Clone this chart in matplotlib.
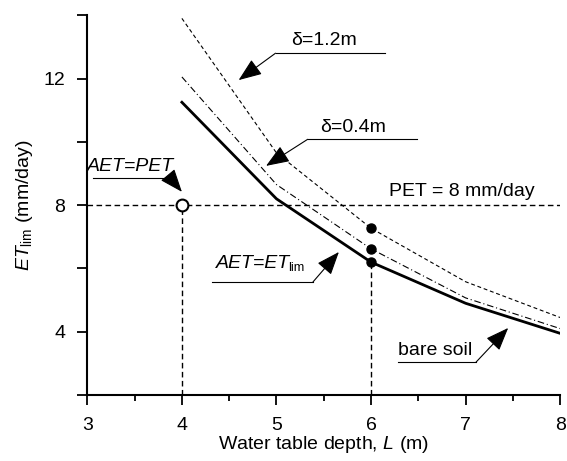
import matplotlib
matplotlib.use("Agg")
import matplotlib.pyplot as plt
from matplotlib.ticker import MultipleLocator

plt.rcParams['font.family'] = ['Liberation Sans', 'DejaVu Sans']
plt.rcParams['mathtext.fontset'] = 'custom'
plt.rcParams['mathtext.rm'] = 'Liberation Sans'
plt.rcParams['mathtext.it'] = 'Liberation Sans:italic'

# water table depth (m) and limiting evaporation (mm/day)
depth = [4, 5, 6, 7, 8]
et_bare = [11.25, 8.2, 6.2, 4.9, 3.95]
et_d04 = [12.05, 8.65, 6.62, 5.07, 4.1]
et_d12 = [13.9, 9.65, 7.27, 5.58, 4.45]

pet = 8
pet_point = (4, 8)
obs_depth = [6, 6, 6]
obs_et = [6.2, 6.62, 7.27]

fs = 14

fig = plt.figure(figsize=(5.67, 4.61), dpi=100)
ax = fig.add_axes([0.154, 0.143, 0.834, 0.824])

ax.plot(depth, et_d12, color='black', lw=0.8, dashes=(3.5, 2.5))
ax.plot(depth, et_d04, color='black', lw=0.8, dashes=(6, 2.5, 1, 2.5))
ax.plot(depth, et_bare, color='black', lw=2.0)

# PET line and guides
ax.plot([3, 8], [pet, pet], color='black', lw=1.0, dashes=(4, 2.5))
ax.plot([pet_point[0], pet_point[0]], [2, pet_point[1]], color='black', lw=1.0, dashes=(4, 2.5))
ax.plot([6, 6], [2, min(obs_et)], color='black', lw=1.0, dashes=(4, 2.5))
ax.plot(obs_depth, obs_et, 'o', color='black', ms=6.5, ls='none')
ax.plot([pet_point[0]], [pet_point[1]], 'o', mfc='white', mec='black', mew=1.5, ms=8.5)

arr = dict(arrowstyle='-|>,head_length=0.9,head_width=0.35', color='black',
           lw=0.8, mutation_scale=16, shrinkA=0, shrinkB=0)

def label(text, tx, ty, ux0, ux1, uy, tip, start=None, italic=False, sub=None):
    t = ax.text(tx, ty, text, fontsize=fs, ha='left', va='center',
                style='italic' if italic else 'normal')
    if sub:
        ax.annotate(sub, xy=(1, 0.0), xycoords=t, xytext=(-1.5, -2),
                    textcoords='offset points', fontsize=fs * 0.65,
                    ha='left', va='bottom')
    ax.plot([ux0, ux1], [uy, uy], color='black', lw=0.8, clip_on=False)
    if start is None:
        start = (ux0, uy)
    ax.annotate('', xy=tip, xytext=start, arrowprops=arr)

label('δ=1.2m', 5.16, 13.2, 4.99, 6.15, 12.8, (4.6, 11.95))
label('δ=0.4m', 5.46, 10.46, 5.33, 6.49, 10.08, (4.89, 9.24))
label('AET=PET', 3.0, 9.23, 3.06, 3.9, 8.85, (4.0, 8.42), start=(3.88, 8.85), italic=True)
label('AET=ET', 4.36, 6.17, 4.32, 5.385, 5.57, (5.66, 6.52), start=(5.385, 5.57),
      italic=True, sub='lim')
label('bare soil', 6.28, 3.42, 6.28, 7.11, 3.04, (7.45, 4.12), start=(7.11, 3.04))
ax.text(6.19, 8.42, 'PET = 8 mm/day', fontsize=fs, ha='left', va='center')

ax.set_xlim(3, 8)
ax.set_ylim(2, 14)
ax.xaxis.set_major_locator(MultipleLocator(1))
ax.xaxis.set_minor_locator(MultipleLocator(0.5))
ax.yaxis.set_minor_locator(MultipleLocator(2))
ax.set_yticks([4, 8, 12])
ax.tick_params(axis='both', which='major', direction='out', length=7, width=1.3, labelsize=fs, pad=9)
ax.tick_params(axis='x', which='minor', direction='out', length=4, width=1.3)
ax.tick_params(axis='y', which='minor', direction='out', length=7, width=1.3)
for s in ['top', 'right']:
    ax.spines[s].set_visible(False)
for s in ['left', 'bottom']:
    ax.spines[s].set_linewidth(1.5)

ax.set_xlabel('Water table depth, $\\mathit{L}$ (m)', fontsize=fs, labelpad=0)
ax.set_ylabel('$\\mathit{ET}_{\\mathrm{lim}}$ (mm/day)', fontsize=fs, labelpad=6)

fig.savefig('out.png', dpi=100)
